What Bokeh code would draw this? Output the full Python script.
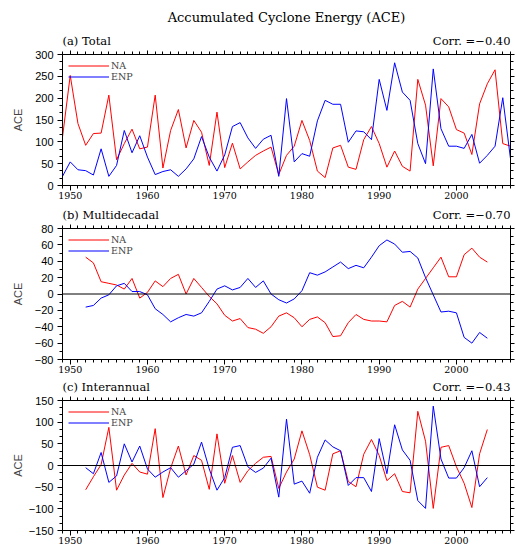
from bokeh.plotting import figure
from bokeh.models import (Range1d, LinearAxis, SingleIntervalTicker, Label, Span,
                          Legend, LegendItem)
from bokeh.layouts import column
from bokeh.embed import file_html
from bokeh.resources import INLINE

# ---------------- data ----------------
years_total = list(range(1949, 2008))
na_total = [111, 252, 142, 92, 119, 120, 207, 59, 96, 129,
            84, 88, 207, 40, 126, 174, 86, 149, 122, 46,
            168, 41, 97, 38, 54, 69, 79, 88, 25, 69,
            90, 149, 103, 33, 18, 86, 92, 42, 37, 105,
            135, 96, 42, 79, 44, 33, 243, 184, 45, 199,
            180, 128, 120, 71, 187, 233, 265, 96, 90]
enp_total = [21, 54, 36, 34, 24, 84, 21, 46, 126, 75,
             114, 65, 25, 32, 36, 21, 38, 61, 112, 65,
             33, 70, 135, 144, 109, 85, 106, 115, 21, 199,
             54, 73, 67, 148, 195, 186, 186, 99, 125, 123,
             105, 243, 172, 281, 214, 195, 96, 50, 267, 130,
             90, 90, 85, 117, 51, 69, 90, 201, 61]

years_filt = list(range(1952, 2005))
na_multi = [45, 38, 15, 13, 11, 6, 19, -5, 2, 16,
            9, 19, 24, 0, 19, 8, -3, -12, -26, -33,
            -30, -41, -43, -48, -40, -27, -23, -29, -40, -31,
            -28, -35, -52, -51, -35, -25, -31, -33, -33, -34,
            -14, -9, -16, 6, 19, 32, 45, 21, 21, 48,
            56, 45, 39]
enp_multi = [-16, -14, -5, -1, 10, 13, 3, 3, -1, -18,
             -25, -34, -29, -25, -27, -23, -9, 6, 10, 5,
             8, 19, 8, 16, 0, -7, -11, -6, 4, 26,
             23, 27, 33, 39, 31, 35, 32, 45, 59, 66,
             61, 51, 52, 44, 20, -1, -22, -21, -23, -53,
             -60, -47, -54]
na_inter = [-56, -26, 2, 88, -57, -22, 5, -15, -20, 85,
            -74, -6, 45, -22, 23, 12, -55, 73, -41, 23,
            -39, -12, 5, 19, 21, -53, -15, 15, 80, 25,
            -50, -57, 27, 34, -37, -49, 26, 60, 23, -35,
            -19, -60, -63, 125, 56, -99, 42, 46, -3, -41,
            -97, 27, 83]
enp_inter = [-5, -19, 30, -39, -24, 50, 8, 45, -8, -27,
             -15, -5, -27, -12, 3, 54, -8, -57, -28, 42,
             46, -3, -16, -6, 17, -73, 107, -43, -36, -64,
             19, 59, 43, 34, -46, -28, -28, -60, 62, -19,
             94, 36, 12, -81, -99, 137, 15, -29, -29, -5,
             34, -49, -28]

main_title = "Accumulated Cyclone Energy (ACE)"
panel_tags = ["(a) Total", "(b) Multidecadal", "(c) Interannual"]
panel_corr = ["Corr. =\u22120.40", "Corr. =\u22120.70", "Corr. =\u22120.43"]
series_names = ["NA", "ENP"]
y_label = "ACE"

# ---------------- styling ----------------
SERIF = "DejaVu Serif"
SANS = "Liberation Sans"
X0, X1 = 1949, 2007
W = 516
LEFT = 62
RIGHT = 6


def style_axis(ax, show_labels, font, size, standoff, tick_out=5):
    ax.axis_line_color = "black"
    ax.axis_line_width = 1
    ax.major_tick_line_color = "black"
    ax.minor_tick_line_color = "black"
    ax.major_tick_out = tick_out
    ax.major_tick_in = 0
    ax.minor_tick_out = 3
    ax.minor_tick_in = 0
    ax.major_label_standoff = standoff
    if show_labels:
        ax.major_label_text_font = font
        ax.major_label_text_font_size = size
        ax.major_label_text_color = "black"
    else:
        ax.major_label_text_font_size = "1px"
        ax.major_label_text_color = None
        ax.major_label_standoff = 0


def header(h, items):
    p = figure(width=W, height=h, x_range=Range1d(X0, X1), y_range=Range1d(0, h),
               output_backend="svg", toolbar_location=None,
               x_axis_type=None, y_axis_type=None,
               min_border_left=LEFT, min_border_right=RIGHT,
               min_border_top=0, min_border_bottom=0)
    p.outline_line_color = None
    p.background_fill_color = "white"
    p.border_fill_color = "white"
    for (x, y, text, align, size) in items:
        p.add_layout(Label(x=x, y=y, text=text, text_align=align,
                           text_baseline="middle", text_font=SERIF,
                           text_font_size=size, text_color="black"))
    return p


def make_panel(h, top, bottom, yr, yint, yminor, xs, na, enp, ylab_standoff):
    p = figure(width=W, height=h, x_range=Range1d(X0, X1), y_range=Range1d(*yr),
               output_backend="svg", toolbar_location=None,
               x_axis_type=None, y_axis_type=None,
               min_border_left=LEFT, min_border_right=RIGHT,
               min_border_top=top, min_border_bottom=bottom)
    p.outline_line_color = "black"
    p.outline_line_width = 1
    p.background_fill_color = "white"
    p.border_fill_color = "white"

    for loc in ["below", "above"]:
        ax = LinearAxis(ticker=SingleIntervalTicker(interval=10, num_minor_ticks=10))
        style_axis(ax, loc == "below", SERIF, "9.5px", 1,
                   tick_out=5 if loc == "below" else 4)
        p.add_layout(ax, loc)
    for loc in ["left", "right"]:
        ticker = SingleIntervalTicker(interval=yint, num_minor_ticks=yminor)
        ax = LinearAxis(ticker=ticker)
        style_axis(ax, loc == "left", SANS, "11px", 4,
                   tick_out=5 if loc == "left" else 4)
        if loc == "left":
            ax.major_label_overrides = {v: "\u2212" + str(-v)
                                        for v in range(yr[0], 0, yint)}
            ax.axis_label = y_label
            ax.axis_label_text_font = SANS
            ax.axis_label_text_font_size = "11px"
            ax.axis_label_text_font_style = "normal"
            ax.axis_label_standoff = ylab_standoff
        p.add_layout(ax, loc)

    if yr[0] < 0:
        p.add_layout(Span(location=0, dimension="width", line_color="black",
                          line_width=1))

    r1 = p.line(xs, na, line_color="red", line_width=1)
    r2 = p.line(xs, enp, line_color="blue", line_width=1)

    leg = Legend(items=[LegendItem(label=series_names[0], renderers=[r1]),
                        LegendItem(label=series_names[1], renderers=[r2])],
                 location="top_left", glyph_width=41, glyph_height=11,
                 label_height=11, label_standoff=2, spacing=0, padding=3,
                 margin=3, background_fill_alpha=0, border_line_alpha=0,
                 label_text_font=SERIF, label_text_font_size="9.5px")
    p.add_layout(leg)
    return p


XM = (X0 + X1) / 2
TAG = "11.5px"
ha = header(48, [(XM, 31, main_title, "center", "13px"),
                 (X0, 7.5, panel_tags[0], "left", TAG),
                 (X1, 7.5, panel_corr[0], "right", TAG)])
pa = make_panel(158, 6, 21, (0, 300), 50, 3, years_total, na_total, enp_total, 8)
hb = header(16, [(X0, 7.5, panel_tags[1], "left", TAG),
                 (X1, 7.5, panel_corr[1], "right", TAG)])
pb = make_panel(157, 6, 20, (-80, 80), 20, 2, years_filt, na_multi, enp_multi, 8)
hc = header(15, [(X0, 7.5, panel_tags[2], "left", TAG),
                 (X1, 7.5, panel_corr[2], "right", TAG)])
pc = make_panel(155, 6, 19, (-150, 150), 50, 3, years_filt, na_inter, enp_inter, 2)

layout = column(ha, pa, hb, pb, hc, pc, spacing=0)
open("out.html", "w").write(file_html(layout, INLINE))
